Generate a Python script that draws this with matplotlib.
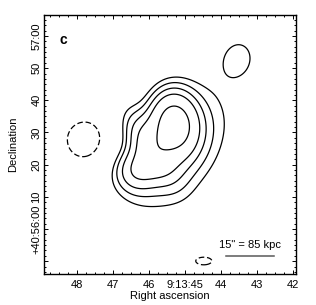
import numpy as np
import matplotlib
matplotlib.use('Agg')
import matplotlib.pyplot as plt
from matplotlib.ticker import FixedLocator, MultipleLocator

plt.rcParams['font.family'] = ['Liberation Sans', 'DejaVu Sans']

# ---- axis data -------------------------------------------------------
ra_range = [48.93, 41.93]      # RA seconds of 9h13m
dec_range = [-14.0, 66.5]      # arcsec offset from +40:56:00
ra_ticks = [48, 47, 46, 45, 44, 43, 42]
ra_ticklabels = ['48', '47', '46', '9:13:45', '44', '43', '42']
dec_ticks = [-10, 0, 10, 20, 30, 40, 50, 60]
dec_ticklabels = ['', '+40:56:00', '10', '20', '30', '40', '50', '57:00']

# ---- source model components (estimated from the map) ----------------
# amplitude, RA (s), Dec offset ("), sigma along PA ("), sigma across ("), PA (deg, from west toward north)
comp_amp = [1.0, 0.344, 0.2494, 0.3239, 0.15, -0.17, -0.14]
comp_ra = [45.299, 45.985, 45.227, 46.336, 43.528, 47.763, 44.486]
comp_dec = [32.61, 25.774, 25.101, 18.289, 53.1, 27.64, -9.94]
comp_sa = [6.303, 8.105, 15.932, 4.843, 5.0, 6.95, 4.8]
comp_sb = [4.643, 3.795, 9.711, 4.521, 4.2, 6.95, 2.24]
comp_pa = [96.1, 123.5, 55.3, 15.0, 75.0, 0.0, 0.0]
levels = [-0.12, 0.12, 0.1874, 0.2853, 0.4339, 0.8148]

scale_arcsec = 15.0
scale_label = '15" = 85 kpc'
panel_label = 'c'

# ---- build map -------------------------------------------------------
k = 15 * np.cos(np.radians(40.93))
ra_g = np.linspace(ra_range[1], ra_range[0], 500)
dec_g = np.linspace(dec_range[0], dec_range[1], 500)
RA, DEC = np.meshgrid(ra_g, dec_g)
X = (45 - RA) * k
Y = DEC
F = np.zeros_like(X)
for a, r0, d0, sa, sb, pa in zip(comp_amp, comp_ra, comp_dec, comp_sa, comp_sb, comp_pa):
    dx = X - (45 - r0) * k
    dy = Y - d0
    t = np.radians(pa)
    u = dx * np.cos(t) + dy * np.sin(t)
    v = -dx * np.sin(t) + dy * np.cos(t)
    F += a * np.exp(-0.5 * ((u / sa) ** 2 + (v / sb) ** 2))

fig = plt.figure(figsize=(3.16, 3.05), dpi=100)
ax = fig.add_axes([0.1377, 0.1016, 0.798, 0.849])

ls = [(0, (4.5, 2.2)) if l < 0 else 'solid' for l in levels]
ax.contour(RA, DEC, F, levels=levels, colors='k', linewidths=0.9, linestyles=ls)

ax.set_xlim(ra_range)
ax.set_ylim(dec_range)
ax.xaxis.set_major_locator(FixedLocator(ra_ticks))
ax.set_xticklabels(ra_ticklabels)
ax.xaxis.set_minor_locator(MultipleLocator(0.25))
ax.yaxis.set_major_locator(FixedLocator(dec_ticks))
ax.set_yticklabels(dec_ticklabels, rotation=90, va='center')
ax.yaxis.set_minor_locator(MultipleLocator(10 / 6))

ax.tick_params(which='both', direction='in', top=True, right=True, width=0.7, labelsize=8)
ax.tick_params(which='major', length=3)
ax.tick_params(which='minor', length=1.6)
ax.tick_params(axis='x', pad=4)
ax.tick_params(axis='y', pad=1.5)
for s in ax.spines.values():
    s.set_linewidth(1.0)

ax.set_xlabel('Right ascension', fontsize=8, labelpad=1)
ax.set_ylabel('Declination', fontsize=8, labelpad=9.5)

# scale bar
sb_ra0, sb_dec = 43.86, -8.4
ax.plot([sb_ra0, sb_ra0 - scale_arcsec / k], [sb_dec, sb_dec], color='0.35', lw=1.1)
ax.text(43.21, -5.0, scale_label, ha='center', va='center', fontsize=8)
ax.text(0.079, 0.903, panel_label, transform=ax.transAxes, ha='center', va='center',
        fontsize=10, fontweight='bold')

fig.savefig('out.png', dpi=100)
